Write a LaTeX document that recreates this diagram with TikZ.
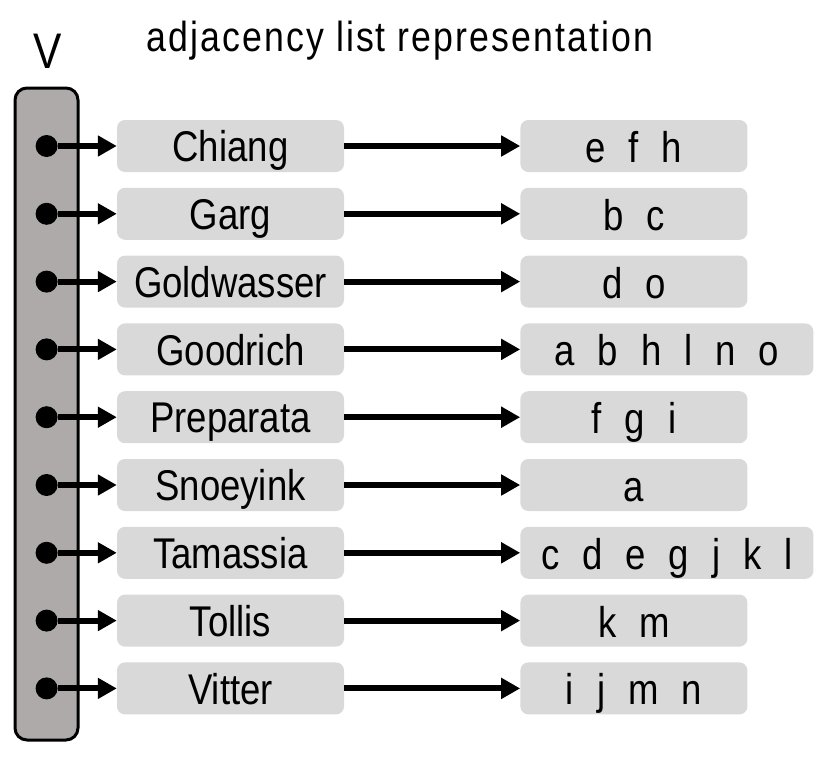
\documentclass[tikz,border=0pt]{standalone}
\usepackage{fontspec}
\setmainfont{Liberation Sans}
\newfontfamily\boxfont{Liberation Sans}[FakeStretch=0.85]
\newfontfamily\titlefont{Liberation Sans}[FakeStretch=0.85, LetterSpace=5]
\usetikzlibrary{arrows.meta,positioning}
\usepackage{xcolor}
\definecolor{boxgray}{HTML}{D9D9D9}
\definecolor{bargray}{HTML}{AEAAAA}
\newcommand\adjfont{\boxfont\fontsize{43}{50}\selectfont\spaceskip=23pt\relax}

\begin{document}
\begin{tikzpicture}[x=1pt, y=-1pt, node distance=15.4pt,
        >={Triangle[length=19pt,width=20pt]},
        vbar/.style={rectangle, draw, line width=3pt, fill=bargray, rounded corners=12pt, minimum width=63pt, minimum height=652pt},
        vdot/.style={circle, fill=black, inner sep=0pt, minimum size=22pt},
        vertex/.style={rectangle, fill=boxgray, rounded corners=8pt, inner sep=0pt, minimum width=227pt, minimum height=52pt, text height=31.5pt, text depth=0pt, font=\boxfont\fontsize{43}{50}\selectfont},
        adjlist/.style={vertex, text height=33pt, font=\adjfont},
        link/.style={->, line width=6pt}]

        \useasboundingbox (0,0) rectangle (839,758);

        \node [anchor=base, font=\titlefont\fontsize{42}{50}\selectfont] (title) at (400,51.5) {adjacency list representation};
        \node [vbar] (vlist) at (46.5,414) {};
        \node [anchor=base, font=\boxfont\fontsize{50}{58}\selectfont] (vlabel) at (48,68) {V};

        % vertices, one per row
        \node [vertex] (chiang) at (230.5,146) {Chiang};
        \node [vertex, below=of chiang] (garg) {Garg};
        \node [vertex, below=of garg] (goldwasser) {Goldwasser};
        \node [vertex, below=of goldwasser] (goodrich) {Goodrich};
        \node [vertex, below=of goodrich] (preparata) {Preparata};
        \node [vertex, below=of preparata] (snoeyink) {Snoeyink};
        \node [vertex, below=of snoeyink] (tamassia) {Tamassia};
        \node [vertex, below=of tamassia] (tollis) {Tollis};
        \node [vertex, below=of tollis] (vitter) {Vitter};

        % adjacent vertices
        \node [adjlist, right=176pt of chiang] (chiang-adj) {e f h};
        \node [adjlist, right=176pt of garg] (garg-adj) {b c};
        \node [adjlist, right=176pt of goldwasser] (goldwasser-adj) {d o};
        \node [adjlist, right=176pt of goodrich, minimum width=293pt] (goodrich-adj) {a b h l n o};
        \node [adjlist, right=176pt of preparata] (preparata-adj) {f g i};
        \node [adjlist, right=176pt of snoeyink] (snoeyink-adj) {a};
        \node [adjlist, right=176pt of tamassia, minimum width=293pt] (tamassia-adj) {c d e g j k l};
        \node [adjlist, right=176pt of tollis] (tollis-adj) {k m};
        \node [adjlist, right=176pt of vitter] (vitter-adj) {i j m n};

        % dots in V
        \node [vdot, left=59pt of chiang] (chiang-dot) {};
        \node [vdot, left=59pt of garg] (garg-dot) {};
        \node [vdot, left=59pt of goldwasser] (goldwasser-dot) {};
        \node [vdot, left=59pt of goodrich] (goodrich-dot) {};
        \node [vdot, left=59pt of preparata] (preparata-dot) {};
        \node [vdot, left=59pt of snoeyink] (snoeyink-dot) {};
        \node [vdot, left=59pt of tamassia] (tamassia-dot) {};
        \node [vdot, left=59pt of tollis] (tollis-dot) {};
        \node [vdot, left=59pt of vitter] (vitter-dot) {};

        \draw[link] (chiang-dot) -- (chiang);
        \draw[link] (garg-dot) -- (garg);
        \draw[link] (goldwasser-dot) -- (goldwasser);
        \draw[link] (goodrich-dot) -- (goodrich);
        \draw[link] (preparata-dot) -- (preparata);
        \draw[link] (snoeyink-dot) -- (snoeyink);
        \draw[link] (tamassia-dot) -- (tamassia);
        \draw[link] (tollis-dot) -- (tollis);
        \draw[link] (vitter-dot) -- (vitter);

        \draw[link] (chiang) -- (chiang-adj);
        \draw[link] (garg) -- (garg-adj);
        \draw[link] (goldwasser) -- (goldwasser-adj);
        \draw[link] (goodrich) -- (goodrich-adj);
        \draw[link] (preparata) -- (preparata-adj);
        \draw[link] (snoeyink) -- (snoeyink-adj);
        \draw[link] (tamassia) -- (tamassia-adj);
        \draw[link] (tollis) -- (tollis-adj);
        \draw[link] (vitter) -- (vitter-adj);
    \end{tikzpicture}
\end{document}
